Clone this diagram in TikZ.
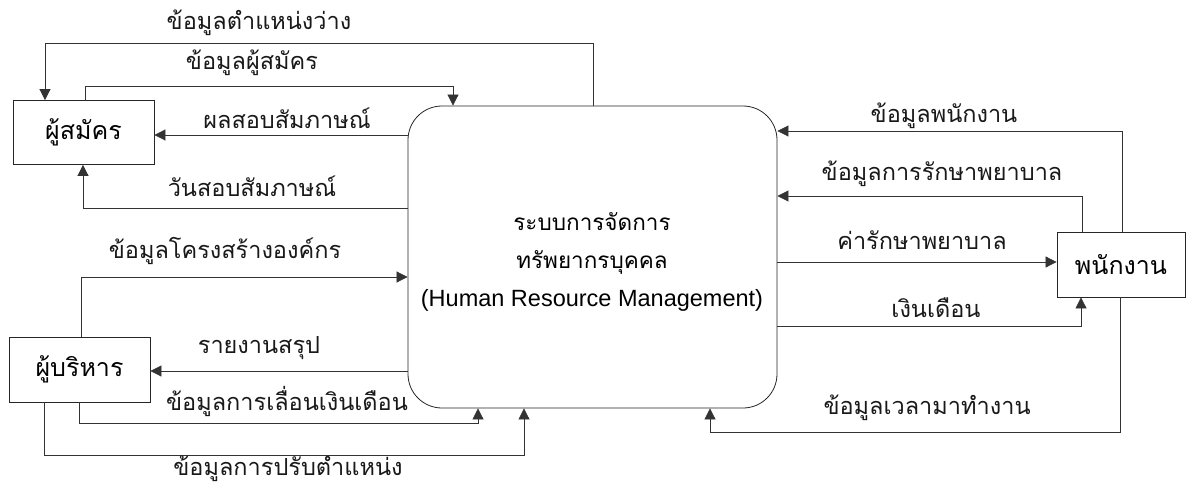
\documentclass[tikz,border=0pt]{standalone}
\usepackage{fontspec}
\setmainfont{Liberation Sans}
\newfontfamily\thai[Script=Thai]{Loma}
\usetikzlibrary{arrows.meta}
\begin{document}
\begin{tikzpicture}[x=1pt,y=-1pt,
  box/.style={draw=black!85, line width=0.8pt, minimum width=141pt, minimum height=64pt, inner sep=0pt, font=\thai\fontsize{25}{28}\selectfont},
  flow/.style={draw=black!80, line width=0.7pt, -{Triangle[length=11pt,width=11pt]}},
  lbl/.style={font=\thai\fontsize{23.5}{27}\selectfont, inner sep=0pt, text=black!90}]
\useasboundingbox (0,0) rectangle (1188,484);
% central process
\node[draw=black!85, line width=0.8pt, rounded corners=34pt, minimum width=369pt, minimum height=302pt, inner sep=0pt] (cs) at (592.5,257) {};
\node[align=center, inner sep=0pt, font=\fontsize{23.5}{38}\selectfont] (cst) at (592,262) {{\thai\fontsize{22.5}{38}\selectfont ระบบการจัดการ}\\{\thai\fontsize{22.5}{38}\selectfont ทรัพยากรบุคคล}\\(Human Resource Management)};
% entities
\node[box] (ap) at (83.5,132.5) {ผู้สมัคร};
\node[box, minimum height=65pt] (ex) at (79.5,369.5) {ผู้บริหาร};
\node[box, minimum width=128pt, minimum height=65pt] (em) at (1121,264.5) {พนักงาน};
% bend points
\coordinate (a1) at (593,43); \coordinate (a2) at (45,43);
\coordinate (b1) at (85,86); \coordinate (b2) at (453,86);
\coordinate (c1) at (0,135);
\coordinate (d1) at (83,208);
\coordinate (e1) at (81,277);
\coordinate (f1) at (0,371);
\coordinate (g1) at (79,423); \coordinate (g2) at (478,423);
\coordinate (h1) at (44,455); \coordinate (h2) at (524,455);
\coordinate (i1) at (1122,131);
\coordinate (j1) at (1082,196);
\coordinate (k1) at (0,262);
\coordinate (m1) at (1081,326);
\coordinate (n1) at (1120,432); \coordinate (n2) at (710,432);
% flows
\draw[flow] (cs.north -| a1) -- (a1) -- (a2) -- (ap.north -| a2);
\draw[flow] (ap.north -| b1) -- (b1) -- (b2) -- (cs.north -| b2);
\draw[flow] (cs.west |- c1) -- (ap.east |- c1);
\draw[flow] (cs.west |- d1) -- (d1) -- (ap.south -| d1);
\draw[flow] (ex.north -| e1) -- (e1) -- (cs.west |- e1);
\draw[flow] (cs.west |- f1) -- (ex.east |- f1);
\draw[flow] (ex.south -| g1) -- (g1) -- (g2) -- (cs.south -| g2);
\draw[flow] (ex.south -| h1) -- (h1) -- (h2) -- (cs.south -| h2);
\draw[flow] (em.north -| i1) -- (i1) -- (cs.east |- i1);
\draw[flow] (em.north -| j1) -- (j1) -- (cs.east |- j1);
\draw[flow] (cs.east |- k1) -- (em.west |- k1);
\draw[flow] (cs.east |- m1) -- (m1) -- (em.south -| m1);
\draw[flow] (em.south -| n1) -- (n1) -- (n2) -- (cs.south -| n2);
% labels
\node[lbl] (l1) at (259,23) {ข้อมูลตำแหน่งว่าง};
\node[lbl] (l2) at (252,63) {ข้อมูลผู้สมัคร};
\node[lbl] (l3) at (287,118) {ผลสอบสัมภาษณ์};
\node[lbl] (l4) at (252,186) {วันสอบสัมภาษณ์};
\node[lbl] (l5) at (225,251) {ข้อมูลโครงสร้างองค์กร};
\node[lbl] (l6) at (259,348) {รายงานสรุป};
\node[lbl] (l7) at (287,401) {ข้อมูลการเลื่อนเงินเดือน};
\node[lbl] (l8) at (288,469) {ข้อมูลการปรับตำแหน่ง};
\node[lbl] (r1) at (944,116) {ข้อมูลพนักงาน};
\node[lbl] (r2) at (942,174) {ข้อมูลการรักษาพยาบาล};
\node[lbl] (r3) at (922,240) {ค่ารักษาพยาบาล};
\node[lbl] (r4) at (936,308) {เงินเดือน};
\node[lbl] (r5) at (927,408) {ข้อมูลเวลามาทำงาน};
\end{tikzpicture}
\end{document}
